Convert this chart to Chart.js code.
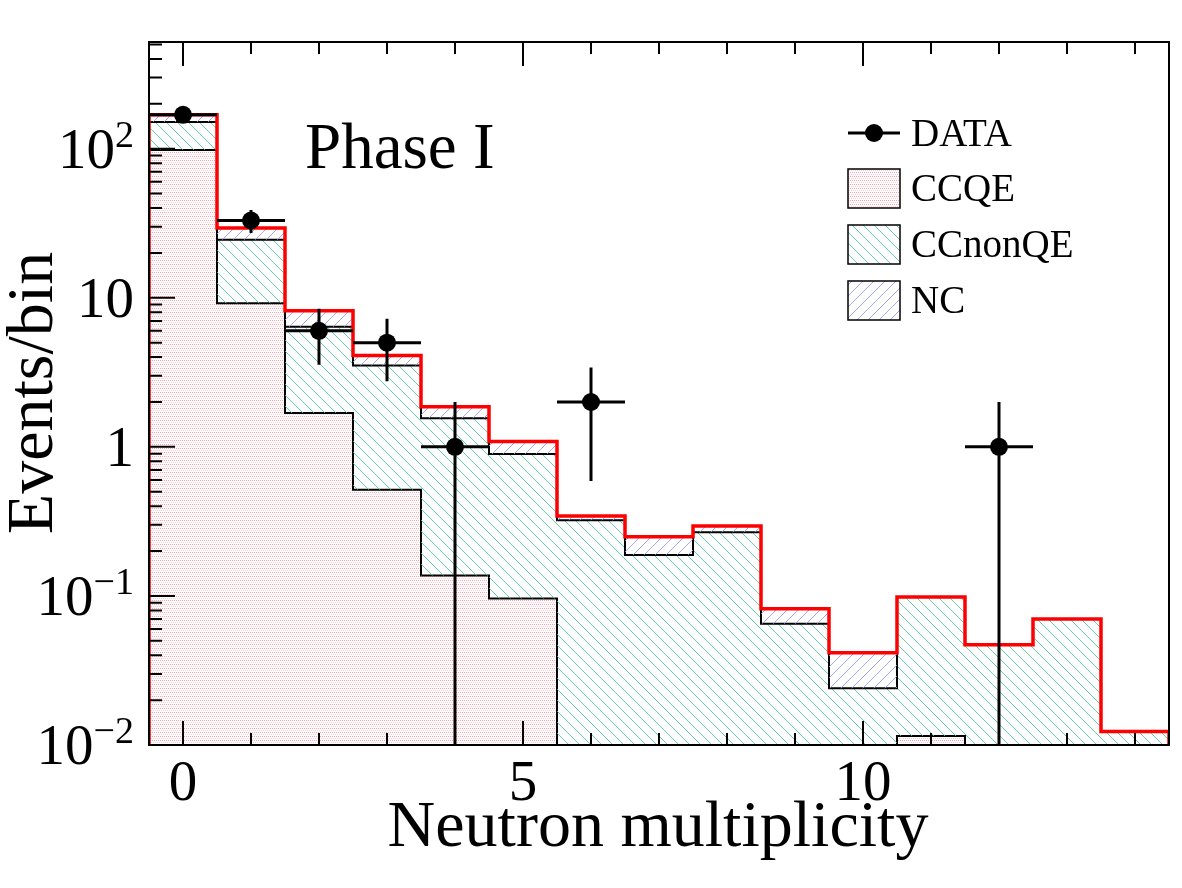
<!DOCTYPE html>
<html lang="en">
<head>
<meta charset="UTF-8">
<title>Neutron multiplicity - Phase I</title>
<script src="https://cdn.jsdelivr.net/npm/chart.js"></script>
<style>
  body { margin: 0; background: #fff; }
</style>
</head>
<body>
<canvas id="nChart" width="1182" height="888"></canvas>
<script>
// events per bin, neutron multiplicity 0..14
const multiplicity = [0, 1, 2, 3, 4, 5, 6, 7, 8, 9, 10, 11, 12, 13, 14];
const ccqe    = [98, 9.2, 1.69, 0.515, 0.137, 0.096, 0, 0, 0, 0, 0, 0.0115, 0, 0, 0];
const ccnonqe = [53, 15.3, 4.7, 3.0, 1.42, 0.80, 0.322, 0.188, 0.267, 0.065, 0.024, 0.087, 0.047, 0.070, 0.0123];
const nc      = [18, 4.9, 1.8, 0.59, 0.30, 0.19, 0.022, 0.061, 0.028, 0.017, 0.0175, 0, 0, 0, 0];
const dataCounts = [169, 33, 6, 5, 1, 0, 2, 0, 0, 0, 0, 0, 1, 0, 0];
const dataErr    = [13, 5.8, 2.45, 2.24, 1, 0, 1.41, 0, 0, 0, 0, 0, 1, 0, 0];

const xTickValues = [0, 5, 10];
const xTickLabels = ['0', '5', '10'];
const yTickValues = [0.01, 0.1, 1, 10, 100];
const yTickLabels = [['10', '\u22122'], ['10', '\u22121'], ['1', ''], ['10', ''], ['10', '2']];

const Y_MIN = 0.01, Y_MAX = 520;
const FONT = '"Liberation Serif", "Times New Roman", serif';

// cumulative stack, like THStack
const stackQE = ccqe.slice();
const stackCC = ccqe.map((v, i) => v + ccnonqe[i]);
const stackAll = stackCC.map((v, i) => v + nc[i]);

// histogram outline as step points on the bin edges
function stepPoints(vals) {
  const pts = [{x: -0.5, y: Y_MIN}];
  vals.forEach((v, i) => pts.push({x: multiplicity[i] - 0.5, y: v > 0 ? v : Y_MIN}));
  const last = vals[vals.length - 1];
  pts.push({x: 14.5, y: last > 0 ? last : Y_MIN});
  pts.push({x: 14.5, y: Y_MIN});
  return pts;
}

// fill patterns
function makePattern(w, h, draw) {
  const c = document.createElement('canvas');
  c.width = w; c.height = h;
  const g = c.getContext('2d');
  draw(g, w);
  return document.getElementById('nChart').getContext('2d').createPattern(c, 'repeat');
}
const dotsRed = makePattern(2, 4, (g) => {
  g.fillStyle = '#fff'; g.fillRect(0, 0, 2, 4);
  g.fillStyle = 'rgb(255,160,170)'; g.fillRect(0, 0, 1, 1);
  g.fillStyle = 'rgb(255,205,212)'; g.fillRect(1, 2, 1, 1);
});
function hatch(color, back) {
  return makePattern(11, 11, (g, s) => {
    g.strokeStyle = color; g.lineWidth = 1;
    for (const k of [-s, 0, s]) {
      g.beginPath();
      if (back) { g.moveTo(k, 0); g.lineTo(k + s, s); }
      else { g.moveTo(k, s); g.lineTo(k + s, 0); }
      g.stroke();
    }
  });
}
const hatchGreen = hatch('rgba(70,200,160,0.85)', true);
const hatchBlue = hatch('rgba(150,150,240,0.85)', false);

const legendItems = [
  {label: 'CCQE', fill: dotsRed},
  {label: 'CCnonQE', fill: hatchGreen},
  {label: 'NC', fill: hatchBlue}
];

const rootStyle = {
  id: 'rootStyle',
  afterDatasetsDraw(chart) {
    const {ctx, chartArea: a, scales: {x, y}} = chart;
    ctx.save();
    ctx.strokeStyle = '#000';
    ctx.lineWidth = 3;
    dataCounts.forEach((n, i) => {
      if (n <= 0) return;
      const px = x.getPixelForValue(multiplicity[i]);
      const py = y.getPixelForValue(n);
      const lo = n - dataErr[i] > Y_MIN ? y.getPixelForValue(n - dataErr[i]) : a.bottom;
      const hi = y.getPixelForValue(n + dataErr[i]);
      ctx.beginPath();
      ctx.moveTo(x.getPixelForValue(multiplicity[i] - 0.5), py);
      ctx.lineTo(x.getPixelForValue(multiplicity[i] + 0.5), py);
      ctx.moveTo(px, hi);
      ctx.lineTo(px, lo);
      ctx.stroke();
    });
    ctx.restore();
  },
  afterDraw(chart) {
    const {ctx, chartArea: a, scales: {x, y}} = chart;
    ctx.save();
    // frame
    ctx.strokeStyle = '#000';
    ctx.lineWidth = 2;
    ctx.strokeRect(a.left, a.top, a.right - a.left, a.bottom - a.top);

    // x ticks, bottom and top
    ctx.beginPath();
    for (let v = 0; v <= 14; v++) {
      const px = x.getPixelForValue(v);
      const len = v % 5 === 0 ? 24 : 12;
      ctx.moveTo(px, a.bottom); ctx.lineTo(px, a.bottom - len);
      ctx.moveTo(px, a.top); ctx.lineTo(px, a.top + len);
    }
    // y ticks, left
    for (let d = -2; d <= 2; d++) {
      for (let m = 1; m <= 9; m++) {
        const v = m * Math.pow(10, d);
        if (v < Y_MIN || v > Y_MAX) continue;
        const py = y.getPixelForValue(v);
        const len = m === 1 ? 26 : 13;
        ctx.moveTo(a.left, py); ctx.lineTo(a.left + len, py);
      }
    }
    ctx.stroke();

    ctx.fillStyle = '#000';
    // x tick labels
    ctx.font = '57px ' + FONT;
    ctx.textAlign = 'center';
    ctx.textBaseline = 'alphabetic';
    xTickValues.forEach((v, i) => {
      ctx.fillText(xTickLabels[i], x.getPixelForValue(v), 800);
    });
    // y tick labels with exponents
    yTickValues.forEach((v, i) => {
      const py = y.getPixelForValue(v);
      const [base, exp] = yTickLabels[i];
      const right = 134;
      ctx.font = '38px ' + FONT;
      const ew = exp ? ctx.measureText(exp).width : 0;
      ctx.textAlign = 'left';
      if (exp) ctx.fillText(exp, right - ew, py - 2);
      ctx.font = '57px ' + FONT;
      ctx.textAlign = 'right';
      ctx.fillText(base, right - ew, py + 19);
    });
    // axis titles
    ctx.font = '66px ' + FONT;
    ctx.textAlign = 'center';
    ctx.fillText('Neutron multiplicity', 658, 846);
    ctx.save();
    ctx.translate(52, 393);
    ctx.rotate(-Math.PI / 2);
    ctx.fillText('Events/bin', 0, 0);
    ctx.restore();

    // phase label
    ctx.font = '65px ' + FONT;
    ctx.textAlign = 'left';
    ctx.fillText('Phase I', 305, 168);

    // legend
    ctx.font = '39px ' + FONT;
    ctx.lineWidth = 3;
    ctx.beginPath();
    ctx.moveTo(848, 133); ctx.lineTo(900, 133);
    ctx.stroke();
    ctx.beginPath();
    ctx.arc(874, 133, 9, 0, Math.PI * 2);
    ctx.fill();
    ctx.fillText('DATA', 911, 146);
    legendItems.forEach((item, i) => {
      const cy = 188 + i * 56;
      ctx.fillStyle = item.fill;
      ctx.fillRect(848, cy - 19, 52, 39);
      ctx.lineWidth = 1.5;
      ctx.strokeRect(848, cy - 19, 52, 39);
      ctx.fillStyle = '#000';
      ctx.fillText(item.label, 911, cy + 13);
    });
    ctx.restore();
  }
};

const ctx = document.getElementById('nChart').getContext('2d');
new Chart(ctx, {
  type: 'line',
  data: {
    datasets: [
      {
        label: 'DATA',
        order: 0,
        data: dataCounts.map((n, i) => ({x: multiplicity[i], y: n > 0 ? n : null})),
        showLine: false,
        pointRadius: 9,
        pointBackgroundColor: '#000',
        pointBorderWidth: 0
      },
      {
        label: 'NC',
        order: 1,
        data: stepPoints(stackAll),
        stepped: 'before',
        borderColor: 'rgb(255,0,0)',
        borderWidth: 3.5,
        backgroundColor: hatchBlue,
        fill: 2,
        pointRadius: 0
      },
      {
        label: 'CCnonQE',
        order: 2,
        data: stepPoints(stackCC),
        stepped: 'before',
        borderColor: '#000',
        borderWidth: 2,
        backgroundColor: hatchGreen,
        fill: 3,
        pointRadius: 0
      },
      {
        label: 'CCQE',
        order: 3,
        data: stepPoints(stackQE),
        stepped: 'before',
        borderColor: '#000',
        borderWidth: 2,
        backgroundColor: dotsRed,
        fill: 'start',
        pointRadius: 0
      }
    ]
  },
  options: {
    responsive: false,
    animation: false,
    devicePixelRatio: 1,
    layout: { padding: {left: 149, top: 42, right: 13, bottom: 143} },
    plugins: { legend: {display: false}, tooltip: {enabled: false} },
    scales: {
      x: { type: 'linear', min: -0.5, max: 14.5, display: false },
      y: { type: 'logarithmic', min: Y_MIN, max: Y_MAX, display: false }
    }
  },
  plugins: [rootStyle]
});
</script>
</body>
</html>
